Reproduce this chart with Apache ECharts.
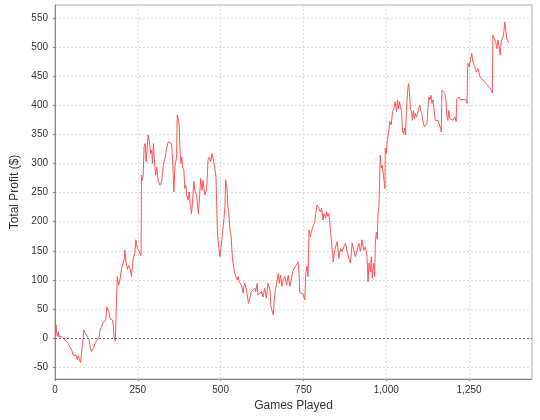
<!DOCTYPE html>
<html><head><meta charset="utf-8">
<script src="https://cdn.jsdelivr.net/npm/echarts@6/dist/echarts.min.js"></script>
<style>html,body{margin:0;padding:0;background:#fff}#c{width:540px;height:420px}</style>
</head><body><div id="c"></div>
<script>
const games = [1,3,5,7,10,12,15,20,25,30,35,40,45,50,55,60,65,67,70,73,75,77,80,83,85,87,90,94,98,101,104,106,110,113,116,121,125,128,134,136,141,146,151,153,156,158,161,163,166,170,174,176,178,182,186,187,188,192,196,201,206,209,211,214,219,222,226,231,236,241,244,249,253,256,259,260,
261,263,266,269,272,275,277,281,285,289,292,294,297,300,304,307,312,317,322,327,332,337,342,347,352,355,359,362,367,369,373,375,377,380,383,385,389,392,395,397,402,405,409,412,415,419,422,427,433,437,440,444,447,452,458,462,466,470,474,477,482,486,490,494,498,501,506,
510,513,515,518,520,522,524,528,531,536,540,543,546,550,553,556,560,563,568,570,573,578,584,588,593,598,603,606,610,613,618,623,628,633,638,643,649,652,656,659,662,665,669,674,677,681,685,689,694,699,704,709,714,719,724,729,734,737,739,744,749,754,757,761,764,
767,771,774,779,784,787,791,796,801,805,809,812,817,820,824,827,832,836,840,843,847,852,857,862,867,872,877,882,887,892,897,902,907,912,917,922,927,932,937,942,945,948,952,955,958,962,965,967,970,973,975,978,980,982,985,988,992,996,997,1000,1003,1007,1011,1015,1019,1023,1027,1031,1034,1037,1040,1043,1046,1049,1052,1055,1058,1061,1064,1067,1070,1073,1076,1079,1082,1085,1088,1091,1095,1098,1101,1104,1107,1111,1115,1119,1123,1126,1129,1132,1135,1138,1141,1144,1148,1152,1156,1161,1164,1166,1168,1171,1174,1177,1180,1183,1186,1189,1192,1197,1202,1207,1211,1213,1217,1220,1224,1228,1232,1237,1242,1244,1245,1247,1250,1254,1258,1262,1267,1272,1277,1280,1283,1287,1292,1297,1302,1307,1312,1317,1320,1322,1326,1330,1334,1337,1340,1344,1347,1350,1354,1358,1360,1364,1366,1370];
const profit = [8,23,10,3,11,2,5,3,5,-3,-5,-9,-15,-20,-29,-28,-30,-37,-30,-27,-33,-42,-25,-11,0,14,10,8,3,5,-5,-14,-23,-20,-17,-9,-5,-3,3,14,20,28,25,30,54,56,51,45,34,32,31,20,3,-5,-3,-2,106,91,100,120,123,135,151,132,118,125,120,106,137,146,169,154,150,151,142,150,
280,271,277,329,334,303,317,349,337,317,323,300,334,306,280,294,269,263,269,297,309,326,337,340,334,306,251,294,311,383,374,363,329,300,311,294,289,257,263,246,237,251,226,214,231,269,254,246,214,249,274,254,271,246,257,306,311,303,317,309,294,277,186,157,140,154,151,
205,226,272,262,250,225,220,186,180,134,120,111,108,100,106,97,94,91,77,89,94,83,60,63,80,83,86,80,94,74,77,80,71,86,69,94,83,54,54,40,66,83,94,111,94,108,89,100,106,91,108,89,103,117,114,126,131,108,78,76,76,66,110,124,106,
186,174,183,180,200,214,229,226,217,223,203,214,206,217,209,214,183,157,131,146,157,166,137,154,149,157,163,149,137,129,163,166,140,151,163,149,169,151,157,140,97,129,114,140,103,129,106,163,182,170,214,226,272,314,292,297,277,257,326,317,338,354,372,366,389,394,406,389,409,394,406,397,389,357,351,360,349,391,420,437,423,394,389,374,391,377,386,380,386,394,400,391,386,372,363,360,369,397,414,409,417,403,409,394,374,372,374,372,360,354,426,423,429,420,411,380,374,391,377,380,374,380,372,411,409,414,409,411,410,410,409,403,452,472,466,477,489,474,466,457,463,460,449,446,443,440,437,434,430,426,421,520,517,509,497,512,503,486,509,506,520,543,540,514,512,507];
const xMin = 0, xMax = 1440, xStep = 250;
const yMin = -70, yMax = 572;

const chart = echarts.init(document.getElementById('c'), null, {renderer: 'canvas'});
const font = 'Liberation Sans, Arial, sans-serif';
chart.setOption({
  animation: false,
  backgroundColor: '#fff',
  grid: {left: 55, right: 8, top: 5, bottom: 41, show: true, borderColor: '#aaa', borderWidth: 1, backgroundColor: '#fff'},
  xAxis: {
    type: 'value', min: xMin, max: xMax, interval: xStep,
    name: 'Games Played', nameLocation: 'middle', nameGap: 21,
    nameTextStyle: {fontFamily: font, fontSize: 12, color: '#333'},
    axisLine: {show: true, onZero: false, lineStyle: {color: '#888'}},
    axisTick: {show: true, length: 2, lineStyle: {color: '#888'}},
    axisLabel: {fontFamily: font, fontSize: 10, color: '#333', margin: 6, showMaxLabel: false,
      formatter: v => v.toLocaleString('en-US')},
    splitLine: {show: true, lineStyle: {color: '#ddd', type: [2, 2]}}
  },
  yAxis: {
    type: 'value', min: yMin, max: yMax, splitNumber: 13,
    name: 'Total Profit ($)', nameLocation: 'middle', nameGap: 27,
    nameTextStyle: {fontFamily: font, fontSize: 12, color: '#333'},
    axisLine: {show: true, onZero: false, lineStyle: {color: '#888'}},
    axisTick: {show: true, length: 2, lineStyle: {color: '#888'}},
    axisLabel: {fontFamily: font, fontSize: 10, color: '#333', margin: 7, showMinLabel: false, showMaxLabel: false},
    splitLine: {show: true, lineStyle: {color: '#ddd', type: [2, 2]}}
  },
  series: [{
    type: 'line',
    data: games.map((g, i) => [g, profit[i]]),
    showSymbol: false,
    lineStyle: {color: '#ff5555', width: 1},
    itemStyle: {color: '#ff5555'},
    markLine: {
      silent: true, symbol: ['none', 'none'], label: {show: false},
      lineStyle: {color: '#5a5aff', type: [2, 2], width: 1},
      data: [{yAxis: 0}]
    }
  }]
});
</script></body></html>
